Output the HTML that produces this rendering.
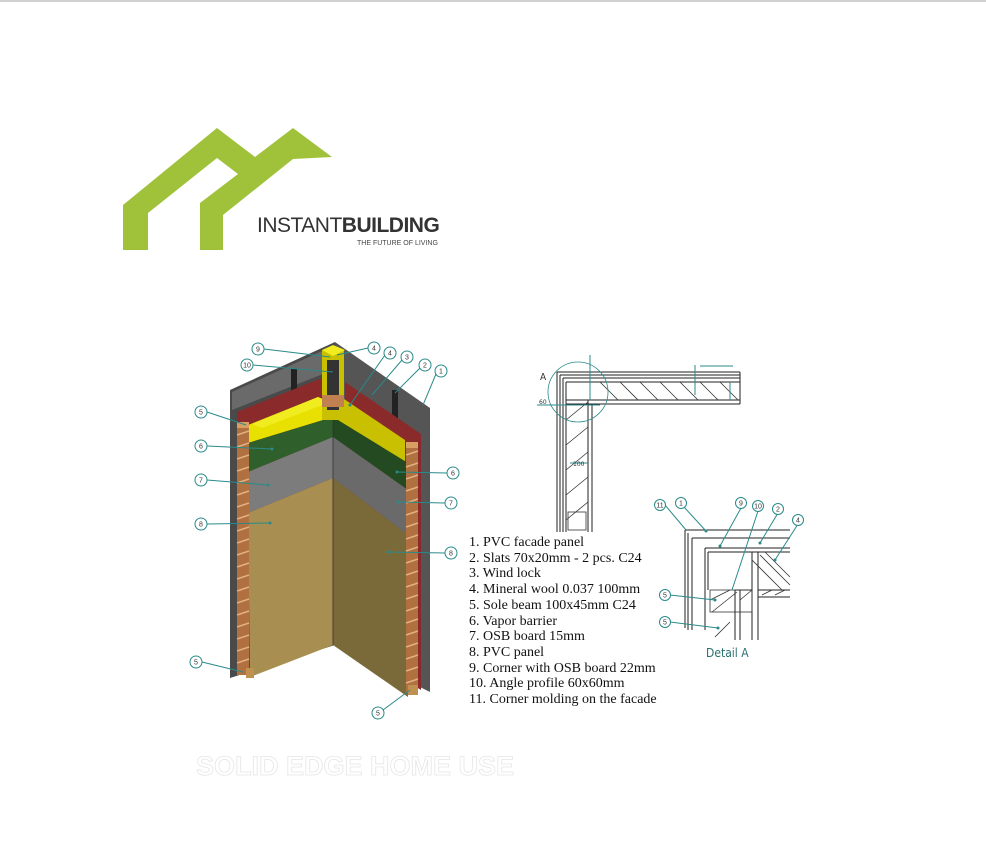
<!DOCTYPE html>
<html><head><meta charset="utf-8"><style>
html,body{margin:0;padding:0;background:#fff;width:986px;height:855px;overflow:hidden}
svg{display:block}
.c{fill:#fff;stroke:#2a8a8a;stroke-width:1}
.cl{stroke:#2a8a8a;stroke-width:1;fill:none}
.ct{font-family:"Liberation Sans",sans-serif;font-size:7px;fill:#333;text-anchor:middle}
.k{stroke:#222;stroke-width:1;fill:none}
.h{stroke:#333;stroke-width:0.8;fill:none}
.lg{font-family:"Liberation Serif",serif;font-size:14px;fill:#111}
</style></head><body>
<svg width="986" height="855" viewBox="0 0 986 855" xmlns="http://www.w3.org/2000/svg">
<rect x="0" y="0" width="986" height="2" fill="#d0d0d0"/>
<!-- logo -->
<polygon fill="#9fc23a" points="123,205 217,128 255,157 293,128 332,157 293,159 223,215 223,250 200,250 200,203 238,174 217,158 148,213 148,250 123,250"/>
<text x="257" y="232" font-family="Liberation Sans,sans-serif" font-size="21" fill="#333" letter-spacing="-0.5">INSTANT<tspan font-weight="bold">BUILDING</tspan></text>
<text x="357" y="245" font-family="Liberation Sans,sans-serif" font-size="7" fill="#444">THE FUTURE OF LIVING</text>

<!-- 3D wall -->
<polygon fill="#4a4a4a" points="230,390 335,342 335,645 230,678"/>
<polygon fill="#555" points="335,342 430,408 430,692 335,645"/>
<polygon fill="#6a6a6a" points="232,392 333,346 333,370 232,410"/>
<rect x="291" y="369" width="6" height="30" fill="#222"/>
<rect x="392" y="390" width="6" height="30" fill="#222"/>
<polygon fill="#8b2a2a" points="237,412 322,378 322,640 237,675"/>
<polygon fill="#8b2a2a" points="345,382 421,434 421,690 345,643"/>
<polygon fill="#e8e000" points="248,425 318,397 333,404 333,417 248,443"/>
<polygon fill="#c8c000" points="338,395 405,440 405,463 333,417"/>
<polygon fill="#f0ec20" points="252,424 318,397 330,402 262,428"/>
<polygon fill="#2f5f2a" points="248,443 333,417 333,437 248,472"/>
<polygon fill="#234a20" points="333,417 408,463 408,490 333,437"/>
<polygon fill="#7c7c7c" points="248,472 333,437 333,478 248,513"/>
<polygon fill="#6a6a6a" points="333,437 408,490 408,535 333,478"/>
<polygon fill="#a88e50" points="248,513 333,478 333,645 250,677"/>
<polygon fill="#7a6a3a" points="333,478 408,535 408,697 333,645"/>
<line x1="333" y1="417" x2="333" y2="645" stroke="#333" stroke-width="0.8"/>
<rect x="237" y="425" width="12" height="250" fill="#b07040"/>
<rect x="406" y="445" width="12" height="248" fill="#b07040"/>
<g stroke="#e0b080" stroke-width="1.5">
<path d="M237,435 l12,-4 M237,447 l12,-4 M237,459 l12,-4 M237,471 l12,-4 M237,483 l12,-4 M237,495 l12,-4 M237,507 l12,-4 M237,519 l12,-4 M237,531 l12,-4 M237,543 l12,-4 M237,555 l12,-4 M237,567 l12,-4 M237,579 l12,-4 M237,591 l12,-4 M237,603 l12,-4 M237,615 l12,-4 M237,627 l12,-4 M237,639 l12,-4 M237,651 l12,-4 M237,663 l12,-4"/>
<path d="M406,455 l12,-4 M406,467 l12,-4 M406,479 l12,-4 M406,491 l12,-4 M406,503 l12,-4 M406,515 l12,-4 M406,527 l12,-4 M406,539 l12,-4 M406,551 l12,-4 M406,563 l12,-4 M406,575 l12,-4 M406,587 l12,-4 M406,599 l12,-4 M406,611 l12,-4 M406,623 l12,-4 M406,635 l12,-4 M406,647 l12,-4 M406,659 l12,-4 M406,671 l12,-4 M406,683 l12,-4"/>
</g>
<rect x="237" y="422" width="12" height="6" fill="#d8a060"/>
<rect x="406" y="442" width="12" height="6" fill="#d8a060"/>
<rect x="322" y="350" width="22" height="70" fill="#c8c000"/>
<rect x="327" y="360" width="12" height="50" fill="#333"/>
<polygon fill="#f0ec20" points="322,350 333,345 345,350 333,356"/>
<rect x="322" y="395" width="22" height="12" fill="#c08050"/>
<rect x="246" y="668" width="8" height="10" fill="#c09050"/>
<rect x="408" y="685" width="10" height="10" fill="#c09050"/>
<g>
<path class="cl" d="M264,349 L330,357 M253,365 L333,372 M368,348 L337,355 M385,355 L350,405 M402,360 L372,395 M420,368 L395,393 M436,374 L423,405 M207,412 L246,425 M207,446 L272,449 M207,480 L268,485 M207,524 L270,523 M447,473 L397,472 M445,503 L398,502 M445,553 L388,552 M202,662 L243,672 M383,710 L410,690"/>
<g fill="#2a8a8a"><circle cx="272" cy="449" r="1.5"/><circle cx="268" cy="485" r="1.5"/><circle cx="270" cy="523" r="1.5"/><circle cx="397" cy="472" r="1.5"/><circle cx="398" cy="502" r="1.5"/><circle cx="388" cy="552" r="1.5"/><circle cx="350" cy="405" r="1.5"/></g>
<circle class="c" cx="258" cy="349" r="6"/><text class="ct" x="258" y="351.5">9</text>
<circle class="c" cx="247" cy="365" r="6"/><text class="ct" x="247" y="367.5">10</text>
<circle class="c" cx="374" cy="348" r="6"/><text class="ct" x="374" y="350.5">4</text>
<circle class="c" cx="390" cy="353" r="6"/><text class="ct" x="390" y="355.5">4</text>
<circle class="c" cx="407" cy="357" r="6"/><text class="ct" x="407" y="359.5">3</text>
<circle class="c" cx="425" cy="365" r="6"/><text class="ct" x="425" y="367.5">2</text>
<circle class="c" cx="441" cy="371" r="6"/><text class="ct" x="441" y="373.5">1</text>
<circle class="c" cx="201" cy="412" r="6"/><text class="ct" x="201" y="414.5">5</text>
<circle class="c" cx="201" cy="446" r="6"/><text class="ct" x="201" y="448.5">6</text>
<circle class="c" cx="201" cy="480" r="6"/><text class="ct" x="201" y="482.5">7</text>
<circle class="c" cx="201" cy="524" r="6"/><text class="ct" x="201" y="526.5">8</text>
<circle class="c" cx="453" cy="473" r="6"/><text class="ct" x="453" y="475.5">6</text>
<circle class="c" cx="451" cy="503" r="6"/><text class="ct" x="451" y="505.5">7</text>
<circle class="c" cx="451" cy="553" r="6"/><text class="ct" x="451" y="555.5">8</text>
<circle class="c" cx="196" cy="662" r="6"/><text class="ct" x="196" y="664.5">5</text>
<circle class="c" cx="378" cy="713" r="6"/><text class="ct" x="378" y="715.5">5</text>
</g>

<g>
<path class="k" d="M557,372 H740 M560,375 H740 M563,378 H740 M566,382 H740 M566,400 H740 M566,404 H740 M557,372 V532 M560,375 V532 M563,378 V532 M566,382 V532 M588,400 V532 M592,404 V532 M740,372 V404"/>
<path class="h" d="M600,382 l18,18 M620,382 l18,18 M640,382 l18,18 M660,382 l18,18 M680,382 l18,18 M700,382 l18,18 M720,382 l18,18"/>
<path class="h" d="M566,420 l22,-18 M566,445 l22,-18 M566,470 l22,-18 M566,495 l22,-18 M566,520 l22,-18"/>
<rect x="568" y="512" width="18" height="18" class="h"/>
<circle cx="578" cy="392" r="30" fill="none" stroke="#2a8a8a" stroke-width="0.8"/>
<text x="540" y="380" font-family="DejaVu Sans Condensed,DejaVu Sans,sans-serif" font-size="10" fill="#333">A</text>
<path class="cl" d="M537,405 H600 M590,355 V400 M695,365 V395 M700,366 H733 M570,463 H588 M730,382 V400"/>
<text x="539" y="404" font-family="DejaVu Sans,sans-serif" font-size="6" fill="#333">60</text>
<text x="573" y="466" font-family="DejaVu Sans,sans-serif" font-size="6" fill="#333">100</text>
</g>

<g>
<path class="k" d="M685,530 H790 M688,533 V630 M685,530 V628 M692,538 H790 M692,538 V630 M705,548 H790 M705,548 V630 M708,552 H790 M708,552 V590 M708,552 H752 M735,590 H752 M752,552 V640 M758,552 V640 M758,590 H790 M758,597 H790 M735,590 V640 M740,590 V640"/>
<path class="h" d="M752,560 l30,30 M760,555 l30,30 M765,552 l25,25 M710,600 l20,-10 M712,612 l25,-20 M740,600 l12,-10 M730,622 l-15,15 M762,595 l10,-5 M775,595 l10,-5"/>
<rect x="710" y="590" width="42" height="22" class="h"/>
<path class="cl" d="M665,505 L686,530 M684,507 L706,531 M741,508 L720,546 M758,511 L732,590 M778,513 L760,543 M798,524 L775,560 M670,595 L715,600 M670,622 L718,628"/>
<g fill="#2a8a8a"><circle cx="706" cy="531" r="1.5"/><circle cx="720" cy="546" r="1.5"/><circle cx="760" cy="543" r="1.5"/><circle cx="775" cy="560" r="1.5"/><circle cx="715" cy="600" r="1.5"/><circle cx="718" cy="628" r="1.5"/></g>
<circle class="c" cx="660" cy="505" r="5.5"/><text class="ct" x="660" y="507.5">11</text>
<circle class="c" cx="681" cy="503" r="5.5"/><text class="ct" x="681" y="505.5">1</text>
<circle class="c" cx="741" cy="503" r="5.5"/><text class="ct" x="741" y="505.5">9</text>
<circle class="c" cx="758" cy="506" r="5.5"/><text class="ct" x="758" y="508.5">10</text>
<circle class="c" cx="778" cy="509" r="5.5"/><text class="ct" x="778" y="511.5">2</text>
<circle class="c" cx="798" cy="520" r="5.5"/><text class="ct" x="798" y="522.5">4</text>
<circle class="c" cx="665" cy="595" r="5.5"/><text class="ct" x="665" y="597.5">5</text>
<circle class="c" cx="665" cy="622" r="5.5"/><text class="ct" x="665" y="624.5">5</text>
<text x="706" y="657" font-family="DejaVu Sans Condensed,DejaVu Sans,sans-serif" font-size="12" fill="#2a7070">Detail A</text>
</g>

<g class="lg">
<text x="469" y="546">1. PVC facade panel</text>
<text x="469" y="562">2. Slats 70x20mm - 2 pcs. C24</text>
<text x="469" y="577">3. Wind lock</text>
<text x="469" y="593">4. Mineral wool 0.037 100mm</text>
<text x="469" y="609">5. Sole beam 100x45mm C24</text>
<text x="469" y="625">6. Vapor barrier</text>
<text x="469" y="640">7. OSB board 15mm</text>
<text x="469" y="656">8. PVC panel</text>
<text x="469" y="672">9. Corner with OSB board 22mm</text>
<text x="469" y="687">10. Angle profile 60x60mm</text>
<text x="469" y="703">11. Corner molding on the facade</text>
</g>

<text x="196" y="775" font-family="Liberation Sans,sans-serif" font-weight="bold" font-size="27" fill="#fff" stroke="#e6e6e6" stroke-width="0.8">SOLID EDGE HOME USE</text>
</svg>
</body></html>
